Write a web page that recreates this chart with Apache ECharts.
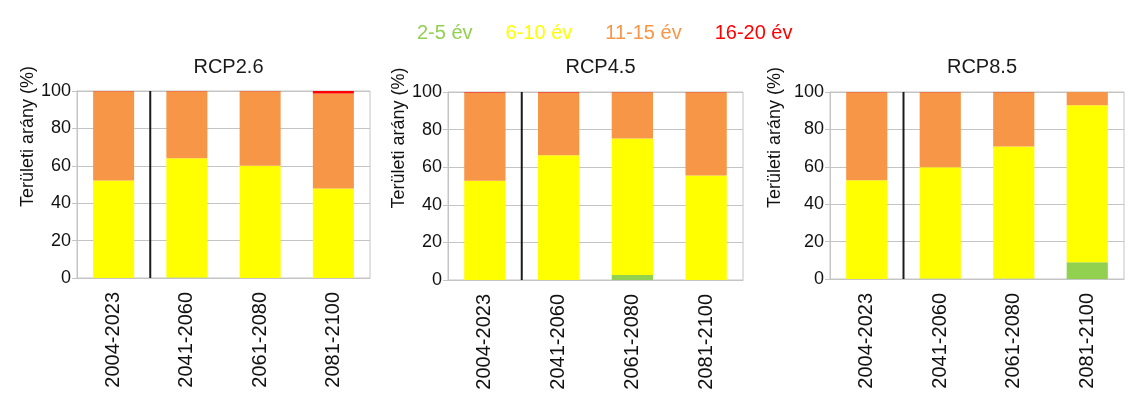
<!DOCTYPE html>
<html>
<head>
<meta charset="utf-8">
<script src="https://cdn.jsdelivr.net/npm/echarts@6/dist/echarts.min.js"></script>
<style>
  html, body { margin: 0; padding: 0; background: #fff; }
  #container { width: 1140px; height: 406px; }
</style>
</head>
<body>
<div id="container"></div>
<script>
var periods = ['2004-2023', '2041-2060', '2061-2080', '2081-2100'];
var scenarios = ['RCP2.6', 'RCP4.5', 'RCP8.5'];
var classNames = ['2-5 év', '6-10 év', '11-15 év', '16-20 év'];
var classColors = ['#92d050', '#ffff00', '#f79646', '#ff0000'];

// share of area (%) per class, one row per scenario, one value per period
var green = [
  [0, 0.3, 0, 0],
  [0, 0, 2.7, 0],
  [0, 0.3, 0.3, 8.9]
];
var yellow = [
  [52.1, 63.8, 60.0, 47.9],
  [52.8, 66.4, 72.6, 55.6],
  [52.8, 59.4, 70.6, 84.0]
];
var orange = [
  [47.8, 35.8, 39.8, 50.8],
  [47.0, 33.4, 24.6, 44.3],
  [47.0, 40.1, 29.0, 7.1]
];
var red = [
  [0.1, 0.1, 0.2, 1.3],
  [0.2, 0.2, 0.1, 0.1],
  [0.2, 0.2, 0.1, 0]
];
var separatorAt = 1; // boundary between observed and projected periods

var dom = document.getElementById('container');
var myChart = echarts.init(dom);

var font = 'Liberation Sans, Arial';
var grids = [
  {left: 77, top: 91, width: 293, height: 187},
  {left: 448, top: 92, width: 295, height: 188},
  {left: 830, top: 92, width: 294, height: 187}
];
var yNameX = [28, 400, 775];

var classValues = [green, yellow, orange, red];
var titles = [], xAxes = [], yAxes = [], series = [];

grids.forEach(function (g, i) {
  g.show = true;
  g.borderColor = '#c4c4c4';
  g.borderWidth = 1;
  titles.push({
    text: scenarios[i],
    left: g.left + g.width / 2,
    top: 52,
    textAlign: 'center',
    textStyle: {fontSize: 20, fontWeight: 'normal', color: '#1a1a1a', fontFamily: font}
  });
  xAxes.push({
    type: 'category',
    gridIndex: i,
    data: periods,
    axisLine: {lineStyle: {color: '#c4c4c4'}},
    axisTick: {show: false},
    axisLabel: {rotate: 90, fontSize: 20, color: '#111', margin: 14, fontFamily: font}
  });
  // hidden value axis used to place the separator line
  xAxes.push({
    type: 'value',
    gridIndex: i,
    min: 0,
    max: periods.length,
    show: false
  });
  yAxes.push({
    type: 'value',
    gridIndex: i,
    min: 0,
    max: 100,
    interval: 20,
    name: 'Területi arány (%)',
    nameLocation: 'middle',
    nameRotate: 90,
    nameGap: g.left - yNameX[i] - 9,
    nameTextStyle: {fontSize: 18, color: '#111', fontFamily: font, padding: [0, 0, 0, 96]},
    axisLine: {show: true, lineStyle: {color: '#c4c4c4'}},
    axisTick: {show: true, length: 5, lineStyle: {color: '#c4c4c4'}},
    splitLine: {lineStyle: {color: '#c4c4c4'}},
    axisLabel: {fontSize: 18, color: '#111', margin: 6, fontFamily: font}
  });
  classNames.forEach(function (name, k) {
    series.push({
      name: name,
      type: 'bar',
      stack: 'grid' + i,
      xAxisIndex: i * 2,
      yAxisIndex: i,
      barWidth: '56%',
      itemStyle: {color: classColors[k]},
      data: classValues[k][i]
    });
  });
  series.push({
    type: 'line',
    xAxisIndex: i * 2 + 1,
    yAxisIndex: i,
    data: [[separatorAt, 0], [separatorAt, 100]],
    symbol: 'none',
    lineStyle: {color: '#1a1a1a', width: 2},
    silent: true,
    z: 5
  });
});

var option = {
  animation: false,
  title: titles,
  legend: {
    top: 18,
    left: 407,
    itemWidth: 0,
    itemHeight: 0,
    itemGap: 28,
    icon: 'rect',
    data: classNames.map(function (n, k) {
      return {name: n, textStyle: {color: classColors[k]}};
    }),
    textStyle: {fontSize: 20, fontFamily: font}
  },
  grid: grids,
  xAxis: xAxes,
  yAxis: yAxes,
  series: series
};
myChart.setOption(option, true);
</script>
</body>
</html>
